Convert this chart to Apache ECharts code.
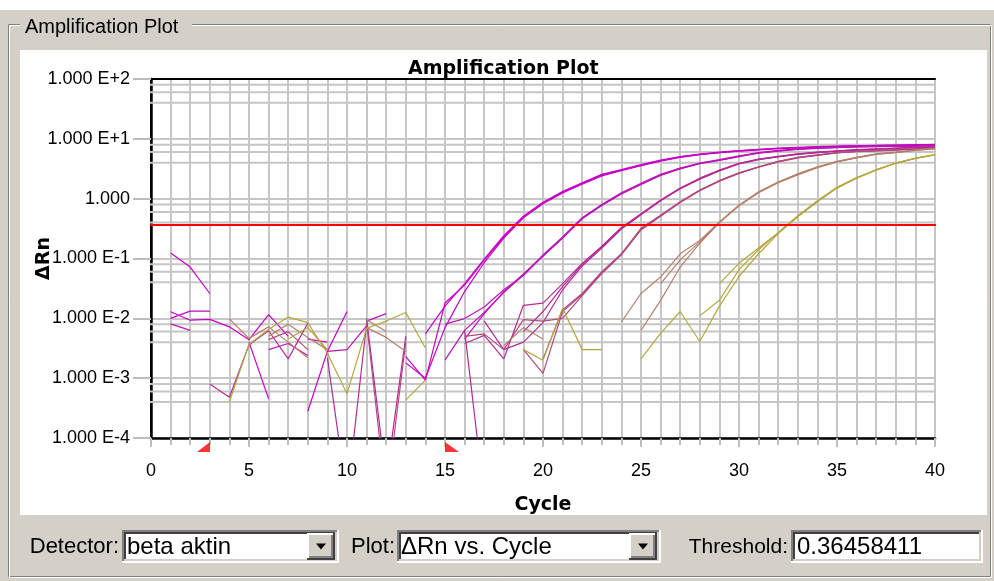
<!DOCTYPE html>
<html>
<head>
<meta charset="utf-8">
<title>Amplification Plot</title>
<script src="https://cdn.jsdelivr.net/npm/echarts@6/dist/echarts.min.js"></script>
<style>
  html, body { margin: 0; padding: 0; background: #d4d0c8; }
  #chart { width: 994px; height: 581px; }
</style>
</head>
<body>
<div id="chart"></div>
<script>
// ---- data ---------------------------------------------------------------
const n = null; // negative ΔRn (not drawable on the log scale)

const cycles = [1,2,3,4,5,6,7,8,9,10,11,12,13,14,15,16,17,18,19,20,
                21,22,23,24,25,26,27,28,29,30,31,32,33,34,35,36,37,38,39,40];

const threshold = 0.36458411;
const baselineStart = 3;
const baselineEnd = 15;

const detectorName = 'beta aktin';
const plotName = 'ΔRn vs. Cycle';

const xTickValues = [0, 5, 10, 15, 20, 25, 30, 35, 40];
const yTickLabels = {
  '100': '1.000 E+2', '10': '1.000 E+1', '1': '1.000',
  '0.1': '1.000 E-1', '0.01': '1.000 E-2', '0.001': '1.000 E-3', '0.0001': '1.000 E-4'
};
// intermediate horizontal grid values inside each decade
const minorGridValues = [80, 60, 40, 8, 6, 4, 0.8, 0.6, 0.4, 0.08, 0.06, 0.04,
                         0.008, 0.006, 0.004, 0.0008, 0.0006, 0.0004];

// ΔRn per cycle (cycle 1..40), three wells per dilution
const g1a = [0.124,0.072,0.026,n,n,n,n,n,n,n, n,n,0.0023,0.00093,0.018,0.036,0.094,0.23,0.50,0.85, 1.3,1.8,2.5,3.0,3.6,4.3,5.0,5.5,5.9,6.3, 6.6,6.9,7.1,7.3,7.5,7.6,7.7,7.8,7.9,8.0];
const g1b = [0.0129,0.0093,0.0096,0.0072,0.0044,0.0115,0.0050,n,n,n, n,n,n,0.0055,0.016,0.038,0.098,0.24,0.51,0.87, 1.32,1.85,2.55,3.05,3.7,4.4,5.05,5.55,6.0,6.35, 6.7,7.0,7.2,7.4,7.55,7.65,7.75,7.85,7.95,8.05];
const g1c = [0.010,0.0132,0.0132,n,0.0040,0.00045,n,0.00028,0.0028,0.013, n,n,0.0018,0.0010,0.0070,0.028,0.085,0.22,0.48,0.82, 1.25,1.75,2.4,2.95,3.55,4.25,4.9,5.45,5.85,6.25, 6.55,6.85,7.05,7.25,7.45,7.55,7.7,7.8,7.85,7.95];

const g2a = [0.0081,0.0063,n,n,n,n,n,n,0.0028,0.0030, 0.0075,n,n,n,0.0080,0.0099,0.0155,0.030,0.052,0.11, 0.22,0.47,0.78,1.22,1.75,2.5,3.2,3.9,4.4,5.1, 5.8,6.3,6.7,7.0,7.2,7.35,7.45,7.55,7.6,7.7];
const g2b = [n,n,n,n,n,n,n,0.0045,0.0040,n, n,n,n,n,0.0020,0.0063,0.0125,0.027,0.053,0.115, 0.23,0.48,0.80,1.25,1.8,2.55,3.25,3.95,4.5,5.2, 5.9,6.4,6.8,7.1,7.3,7.45,7.55,7.6,7.65,7.75];
const g2c = [n,n,n,n,n,0.0030,0.0038,0.0024,n,n, 0.0090,0.012,n,n,n,0.0045,0.0120,0.028,0.055,0.11, 0.22,0.46,0.77,1.2,1.72,2.45,3.15,3.85,4.35,5.05, 5.75,6.25,6.65,6.95,7.15,7.3,7.4,7.5,7.55,7.65];

const g3a = [n,n,0.0008,0.00048,0.0036,0.0062,0.0021,0.0083,n,n, n,n,n,n,n,0.0038,0.0052,0.0021,0.0165,0.018, 0.038,0.083,0.16,0.33,0.56,0.95,1.5,2.2,3.0,3.9, 4.6,5.1,5.6,6.0,6.3,6.6,6.8,7.0,7.2,7.35];
const g3b = [n,n,n,n,n,n,n,n,0.0022,0.00001, 0.0082,n,n,n,n,0.0063,0.00001,n,0.0060,0.013, 0.034,0.080,0.155,0.32,0.55,0.93,1.48,2.15,2.95,3.85, 4.55,5.05,5.55,5.95,6.25,6.55,6.75,6.95,7.15,7.3];
const g3c = [n,n,n,n,n,n,n,n,n,n, 0.0100,0.00002,0.0050,n,n,n,0.0090,0.0030,0.0040,0.0085, 0.030,0.075,0.15,0.31,0.54,0.92,1.46,2.12,2.9,3.8, 4.5,5.0,5.5,5.9,6.2,6.5,6.7,6.9,7.1,7.25];

const g4a = [n,n,n,n,n,0.0044,0.0060,0.0030,n,n, 0.0085,0.00001,0.0040,n,n,n,n,n,n,0.0021, 0.014,0.026,0.060,0.12,0.32,0.53,0.89,1.4,2.0,2.7, 3.4,4.2,4.9,5.4,5.9,6.2,6.4,6.6,6.8,7.0];
const g4b = [n,n,n,n,n,n,n,n,n,n, n,n,n,n,n,n,n,n,0.0030,0.0012, 0.013,0.025,0.058,0.118,0.31,0.52,0.87,1.38,1.98,2.68, 3.38,4.15,4.85,5.35,5.85,6.15,6.35,6.55,6.75,6.95];
const g4c = [n,n,n,n,n,n,n,n,n,n, n,n,n,n,n,0.0050,0.0055,0.0030,0.0095,0.0090, 0.010,0.024,0.056,0.115,0.30,0.51,0.86,1.36,1.96,2.65, 3.35,4.1,4.8,5.3,5.8,6.1,6.3,6.5,6.7,6.9];

const g5a = [n,n,n,0.0098,0.0046,0.0072,0.0040,0.0022,n,n, n,n,n,n,n,n,n,n,n,n, n,n,n,0.0087,0.026,0.049,0.12,0.20,0.41,0.78, 1.3,1.9,2.6,3.4,4.2,4.9,5.6,6.0,6.5,6.9];
const g5b = [n,n,n,n,n,0.0050,0.0080,0.0048,0.0030,n, 0.0070,0.0048,0.0028,n,n,n,n,n,n,n, n,n,n,n,0.0063,0.020,0.072,0.18,0.40,0.77, 1.28,1.88,2.55,3.35,4.15,4.85,5.55,5.95,6.45,6.85];
const g5c = [n,n,n,n,n,n,n,n,n,n, 0.0095,0.0060,n,n,n,n,n,0.0035,0.0070,0.0045, n,n,n,n,n,0.038,0.095,0.19,0.40,0.76, 1.26,1.85,2.5,3.3,4.1,4.8,5.5,5.9,6.4,6.8];

const g6a = [n,n,n,0.0004,0.0037,0.0065,0.0105,0.0085,0.0026,0.00055, 0.0068,0.0090,0.0125,0.0032,n,n,n,n,n,n, n,n,n,n,0.0021,0.0056,0.013,0.0041,0.016,0.050, 0.12,0.26,0.50,0.89,1.5,2.2,3.0,3.9,4.7,5.4];
const g6b = [n,n,n,n,n,n,n,n,n,n, n,n,n,n,n,n,n,n,0.0030,0.0020, 0.0147,0.0030,0.0030,n,n,n,n,0.011,0.020,0.065, 0.14,0.27,0.52,0.92,1.55,2.25,3.05,3.95,4.75,5.45];
const g6c = [n,n,n,n,n,n,0.0045,0.0070,0.0030,n, n,n,0.00043,0.00093,n,n,n,n,n,n, n,n,n,n,n,n,n,n,0.038,0.083, 0.15,0.27,0.51,0.90,1.52,2.22,3.02,3.92,4.72,5.42];

const wellGroups = [[g1a, g1b, g1c], [g2a, g2b, g2c], [g3a, g3b, g3c],
                    [g4a, g4b, g4c], [g5a, g5b, g5c], [g6a, g6b, g6c]];

// ---- styling --------------------------------------------------------------
const groupColors = ['#c800c8', '#bd14b8', '#b52a96', '#b14a7e', '#b8806c', '#b3a840'];
const gridGray = '#c6c6c6';
const panelGray = '#d4d0c8';
const labelFont = 'Liberation Sans, Arial, sans-serif';
const boldFont = 'DejaVu Sans, sans-serif';

// ---- series ---------------------------------------------------------------
const series = [];

// intermediate grid lines, reaching a little past the left axis like ticks
minorGridValues.forEach(function (v) {
  series.push({
    type: 'line', silent: true, animation: false, clip: false, symbol: 'none', z: 1,
    data: [[-0.45, v], [40, v]],
    lineStyle: { color: gridGray, width: 2 }
  });
});

wellGroups.forEach(function (wells, gi) {
  wells.forEach(function (vals, wi) {
    series.push({
      name: 'Dilution ' + (gi + 1) + '.' + (wi + 1),
      type: 'line', animation: false, silent: true, clip: true,
      symbol: 'none', connectNulls: false, z: 3,
      data: cycles.map(function (c, i) { return [c, vals[i]]; }),
      lineStyle: { color: groupColors[gi], width: 1.2 }
    });
  });
});

// threshold
series.push({
  type: 'line', silent: true, animation: false, clip: false, symbol: 'none', z: 4,
  data: [[-0.45, threshold], [40.5, threshold]],
  lineStyle: { color: '#ff0000', width: 2 }
});

// baseline start / end markers under the cycle axis
series.push({
  type: 'scatter', silent: true, animation: false, clip: false, z: 5,
  data: [[baselineStart, 0.0001]],
  symbol: 'path://M13 0L13 10L0 10Z', symbolSize: [13, 10], symbolOffset: [-6.3, 9],
  itemStyle: { color: '#ff0000' }
});
series.push({
  type: 'scatter', silent: true, animation: false, clip: false, z: 5,
  data: [[baselineEnd, 0.0001]],
  symbol: 'path://M0 0L0 10L14 10Z', symbolSize: [14, 10], symbolOffset: [7, 9],
  itemStyle: { color: '#ff0000' }
});

// ---- window chrome --------------------------------------------------------
function hline(x1, x2, y, color, w) {
  return { type: 'line', z: 20, shape: { x1: x1, y1: y, x2: x2, y2: y }, style: { stroke: color, lineWidth: w } };
}
function vline(x, y1, y2, color, w) {
  return { type: 'line', z: 20, shape: { x1: x, y1: y1, x2: x, y2: y2 }, style: { stroke: color, lineWidth: w } };
}
function sunkenBox(x, y, w, h) {
  return [
    { type: 'rect', z: 19, shape: { x: x, y: y, width: w, height: h }, style: { fill: '#ffffff' } },
    hline(x, x + w, y + 1, '#808080', 2), vline(x + 1, y, y + h, '#808080', 2),
    hline(x, x + w, y + h - 1, '#ffffff', 2), vline(x + w - 1, y, y + h, '#ffffff', 2),
    hline(x + 2, x + w - 2, y + 3, '#404040', 2), vline(x + 3, y + 2, y + h - 2, '#404040', 2),
    hline(x + 2, x + w - 2, y + h - 3, panelGray, 2), vline(x + w - 3, y + 2, y + h - 2, panelGray, 2)
  ];
}
function dropButton(x, y, w, h) {
  const cx = x + w / 2, cy = y + h / 2;
  return [
    { type: 'rect', z: 21, shape: { x: x, y: y, width: w, height: h }, style: { fill: panelGray } },
    hline(x, x + w, y + 1, '#ffffff', 2), vline(x + 1, y, y + h, '#ffffff', 2),
    hline(x, x + w, y + h - 1, '#404040', 2), vline(x + w - 1, y, y + h, '#404040', 2),
    hline(x + 2, x + w - 2, y + h - 3, '#808080', 2), vline(x + w - 3, y + 2, y + h - 2, '#808080', 2),
    { type: 'polygon', z: 22, shape: { points: [[cx - 5, cy - 3], [cx + 5, cy - 3], [cx, cy + 3]] }, style: { fill: '#000' } }
  ].map(function (e) { e.z = Math.max(e.z, 21); return e; });
}
function uiText(x, y, text, size, align) {
  return { type: 'text', z: 23, x: x, y: y,
    style: { text: text, fill: '#000', fontSize: size, fontFamily: labelFont, align: align, verticalAlign: 'middle' } };
}

const graphic = [].concat(
  [
    { type: 'rect', z: -10, shape: { x: 0, y: 0, width: 994, height: 10 }, style: { fill: '#ffffff' } },
    // etched group frame
    { type: 'rect', z: -9, shape: { x: 8.5, y: 24.5, width: 982, height: 552 }, style: { fill: null, stroke: '#808080', lineWidth: 1 } },
    { type: 'rect', z: -9, shape: { x: 9.5, y: 25.5, width: 982, height: 552 }, style: { fill: null, stroke: '#ffffff', lineWidth: 1 } },
    { type: 'rect', z: -8, shape: { x: 20, y: 14, width: 172, height: 26 }, style: { fill: panelGray } },
    { type: 'text', z: -7, x: 25, y: 27,
      style: { text: 'Amplification Plot', fill: '#000', fontSize: 20, fontFamily: labelFont, verticalAlign: 'middle' } },
    // white plot panel
    { type: 'rect', z: -8, shape: { x: 20, y: 50, width: 967, height: 465 }, style: { fill: '#ffffff' } }
  ],
  sunkenBox(122, 530, 217, 33), dropButton(307, 533, 28, 27),
  sunkenBox(397, 530, 264, 33), dropButton(629, 533, 28, 27),
  sunkenBox(791, 530, 192, 33),
  [
    uiText(119, 547, 'Detector:', 22, 'right'),
    uiText(127, 547, detectorName, 24, 'left'),
    uiText(395, 547, 'Plot:', 22, 'right'),
    uiText(401, 547, plotName, 24, 'left'),
    uiText(788, 547, 'Threshold:', 21, 'right'),
    uiText(797, 547, String(threshold), 24, 'left')
  ]
);

// ---- chart ----------------------------------------------------------------
const chart = echarts.init(document.getElementById('chart'), null, { renderer: 'canvas' });
chart.setOption({
  animation: false,
  backgroundColor: panelGray,
  title: {
    text: 'Amplification Plot', left: 408, top: 60, padding: 0,
    textStyle: { fontFamily: boldFont, fontWeight: 'bold', fontSize: 19, color: '#000' }
  },
  grid: { left: 151, right: 59, top: 79, bottom: 143, show: true, backgroundColor: '#ffffff', borderWidth: 0 },
  xAxis: [
    {
      type: 'value', min: 0, max: 40, interval: 5, position: 'bottom',
      name: 'Cycle', nameLocation: 'middle', nameGap: 58, nameMoveOverlap: false,
      nameTextStyle: { fontFamily: boldFont, fontWeight: 'bold', fontSize: 19, color: '#000' },
      axisLine: { lineStyle: { color: '#000', width: 2.5 } },
      axisTick: { show: true, length: 9, lineStyle: { color: '#bdbdbd', width: 2 } },
      minorTick: { show: true, splitNumber: 5, length: 7, lineStyle: { color: '#bdbdbd', width: 2 } },
      splitLine: { show: true, lineStyle: { color: gridGray, width: 2 } },
      minorSplitLine: { show: true, lineStyle: { color: gridGray, width: 2 } },
      axisLabel: {
        margin: 24, fontFamily: labelFont, fontSize: 18, color: '#000',
        formatter: function (v) { return xTickValues.indexOf(v) >= 0 ? String(v) : ''; }
      }
    },
    {
      type: 'value', min: 0, max: 40, position: 'top', show: true,
      axisLine: { lineStyle: { color: '#000', width: 2 } },
      axisTick: { show: false }, axisLabel: { show: false }, splitLine: { show: false }
    }
  ],
  yAxis: [
    {
      type: 'log', logBase: 10, min: 0.0001, max: 100, splitNumber: 6, position: 'left',
      name: 'ΔRn', nameLocation: 'middle', nameGap: 97, nameRotate: 90, nameMoveOverlap: false,
      nameTextStyle: { fontFamily: boldFont, fontWeight: 'bold', fontSize: 19, color: '#000' },
      axisLine: { show: true, lineStyle: { color: '#000', width: 2.5 } },
      axisTick: { show: true, length: 18, lineStyle: { color: '#bdbdbd', width: 2 } },
      splitLine: { show: true, lineStyle: { color: gridGray, width: 2 } },
      axisLabel: {
        margin: 21, fontFamily: labelFont, fontSize: 18, color: '#000',
        formatter: function (v) {
          const key = String(Number(v.toPrecision(6)));
          return yTickLabels[key] || '';
        }
      }
    },
    {
      type: 'log', logBase: 10, min: 0.0001, max: 100, position: 'right', show: true,
      axisLine: { show: true, lineStyle: { color: '#000', width: 2 } },
      axisTick: { show: false }, axisLabel: { show: false }, splitLine: { show: false }
    }
  ],
  graphic: graphic,
  series: series
});
</script>
</body>
</html>
